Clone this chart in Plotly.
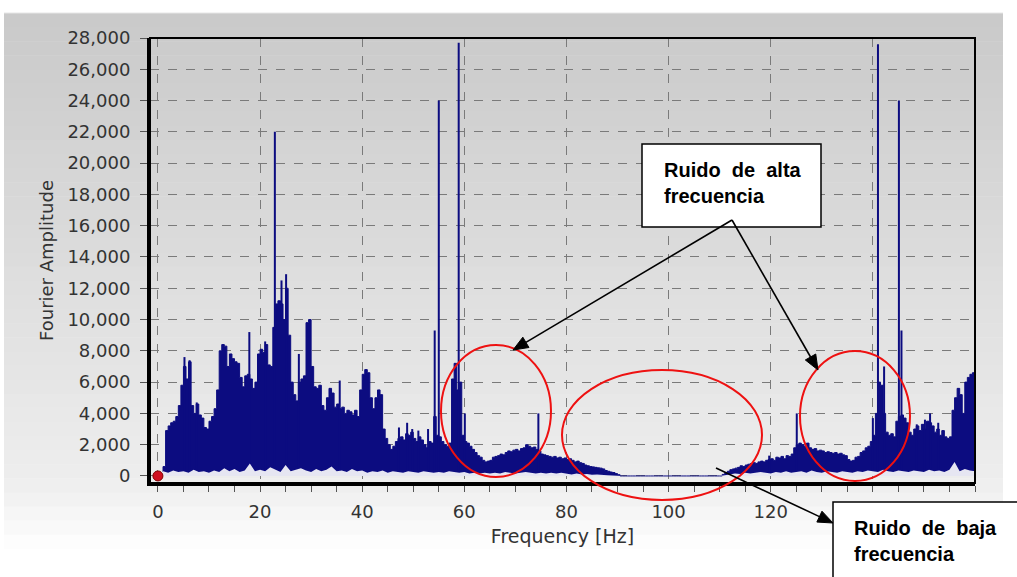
import math
import plotly.graph_objects as go

# ---------------- data ----------------
# envelope of Fourier amplitude, sampled every 0.5 Hz from 0 to 160 Hz
AMP_SEGMENTS = [
    [0, 100, 600, 2900, 3200, 3400, 3500, 3800, 4500, 5800, 7000, 6200, 7300, 4500, 4000, 4600, 3900, 3700, 3100, 3000],
    [3500, 3800, 4300, 5500, 8000, 8400, 8300, 7000, 7800, 7500, 7300, 7200, 6300, 5700, 6400, 6500, 6200, 5600, 6000, 7800],
    [8100, 7900, 8400, 7100, 7000, 9500, 11000, 11200, 11000, 10000, 12000, 9000, 6000, 5200, 4800, 6000, 6200, 6400, 9800, 10000],
    [7000, 5700, 5600, 5800, 4500, 4200, 5000, 5600, 5300, 4400, 4600, 4300, 4400, 4000, 4200, 4100, 3900, 4200, 3800, 5500],
    [6500, 6800, 6600, 5000, 4300, 5000, 5500, 5200, 3000, 2400, 2000, 1700, 1900, 2200, 2400, 2500, 2300, 2700, 2600, 2800],
    [2400, 2200, 2500, 2300, 2000, 1800, 2200, 2100, 3800, 2600, 2500, 2200, 2000, 1900, 2100, 6200, 7200, 5500, 6000, 2600],
    [2200, 2100, 1900, 1700, 1500, 1300, 1200, 1000, 900, 950, 1000, 1200, 1250, 1300, 1400, 1350, 1500, 1600, 1550, 1650],
    [1700, 1600, 1750, 1800, 2000, 1900, 1800, 1850, 1700, 1600, 1400, 1350, 1300, 1250, 1200, 1250, 1150, 1200, 1100, 1150],
    [1050, 1100, 1000, 900, 950, 850, 800, 700, 650, 600, 580, 550, 520, 500, 450, 350, 300, 250, 220, 150],
    [80, 0, 0, 0, 0, 0, 0, 0, 0, 0, 0, 0, 0, 0, 0, 0, 0, 0, 0, 0],
    [0, 0, 0, 0, 0, 0, 0, 0, 0, 0, 0, 0, 0, 0, 0, 0, 0, 0, 0, 0],
    [0, 100, 200, 300, 400, 450, 500, 550, 650, 600, 700, 750, 800, 850, 800, 900, 950, 900, 1000, 1050],
    [1100, 1000, 1200, 1150, 1250, 1100, 1300, 1250, 1400, 1800, 2000, 2100, 2000, 1900, 2100, 1800, 1700, 1750, 1600, 1650],
    [1600, 1500, 1550, 1500, 1450, 1500, 1400, 1450, 1350, 1300, 1050, 950, 1000, 1200, 1250, 1500, 1600, 1800, 1900, 2200],
    [2600, 4000, 6000, 5800, 4000, 2800, 2600, 2700, 2500, 3500, 3800, 3900, 3700, 3400, 2800, 2600, 3000, 3200, 2900, 3300],
    [3000, 3500, 3400, 3200, 2800, 3000, 2600, 2900, 2500, 2400, 2500, 4200, 5000, 5600, 5200, 4000, 6000, 6300, 6500, 6600],
    [5000],
]
AMP = [v for seg in AMP_SEGMENTS for v in seg]
FREQ = [i * 0.5 for i in range(len(AMP))]

# isolated narrow spectral lines (Hz, amplitude)
SPIKE_FREQ = [5.2, 6.2, 7.6, 17.9, 21.0, 22.9, 24.2, 25.1, 27.6, 35.6, 47.2, 48.8, 49.8, 51.0, 52.9,
              54.2, 55.0, 58.9, 60.1, 74.5, 119.7, 125.1, 140.0, 141.0, 142.2, 145.1, 145.6,
              148.6, 150.2, 151.2, 152.8]
SPIKE_AMP = [7600, 7400, 4700, 9200, 8600, 22000, 12500, 12900, 7800, 6100, 3100, 3400, 3000, 2900, 3000,
             9300, 24000, 27700, 4000, 4000, 1300, 4000, 3700, 27600, 7000, 24000, 9300,
             3300, 3600, 4000, 3400]

# low-level noise floor (light trace), every 1 Hz from 0 to 160 Hz
FLOOR = [0, 300, 200, 350, 250, 300, 200, 400, 250, 300, 200, 350, 250, 500, 300, 450, 250, 350, 800, 300,
         400, 300, 550, 400, 250, 700, 300, 400, 500, 350, 250, 450, 300, 400, 600, 300, 350, 250, 450, 300,
         350, 200, 300, 250, 350, 200, 300, 250, 200, 300, 250, 200, 300, 250, 200, 250, 200, 300, 250, 200,
         250, 150, 200, 150, 200, 150, 200, 150, 250, 200, 150, 200, 250, 200, 150, 200, 150, 200, 150, 200,
         150, 100, 150, 100, 120, 80, 100, 60, 50, 30, 0, 0, 0, 0, 0, 0, 0, 0, 0, 0,
         0, 0, 0, 0, 0, 0, 0, 0, 0, 0, 0, 50, 100, 150, 120, 200, 150, 200, 250, 200,
         150, 250, 200, 300, 200, 250, 300, 200, 350, 250, 200, 300, 250, 200, 300, 250, 200, 300, 250, 350,
         300, 250, 400, 300, 250, 350, 300, 250, 350, 300, 250, 400, 300, 350, 250, 400, 900, 300, 450, 350,
         300]
FLOOR_FREQ = list(range(len(FLOOR)))

MARK_X = [0]
MARK_Y = [0]

X_TICKS = [0, 20, 40, 60, 80, 100, 120, 140]
# the 140 label is hidden behind the lower annotation box in the reference
X_TICKTEXT = ["0", "20", "40", "60", "80", "100", "120", ""]
Y_TICKS = list(range(0, 28001, 2000))

# ---------------- layout helpers ----------------
W, H = 1017, 577
L, R, T, B = 150, 975, 38, 483


def px(x):
    return (x - L) / (R - L)


def py(y):
    return (B - y) / (B - T)


NAVY = "#0c0c80"

fig = go.Figure()

fig.add_trace(go.Scatter(x=FREQ, y=AMP, mode="lines", line=dict(color=NAVY, width=1, shape="hv"),
                         fill="tozeroy", fillcolor=NAVY, hoverinfo="skip"))

sx, sy = [], []
for f, a in zip(SPIKE_FREQ, SPIKE_AMP):
    sx += [f, f, None]
    sy += [0, a, None]
fig.add_trace(go.Scatter(x=sx, y=sy, mode="lines", line=dict(color=NAVY, width=2), hoverinfo="skip"))

fig.add_trace(go.Scatter(x=FLOOR_FREQ, y=FLOOR, mode="lines", line=dict(color="rgba(0,0,0,0)", width=0),
                         fill="tozeroy", fillcolor="#e6e6f2", hoverinfo="skip"))

fig.add_trace(go.Scatter(x=MARK_X, y=MARK_Y, mode="markers",
                         marker=dict(color="#d01020", size=10, line=dict(color="#800000", width=1)),
                         cliponaxis=False, hoverinfo="skip"))

shapes = []
# background gradient panel
top_px, n = 13, 40
for i in range(n):
    y0p = top_px + (H - top_px) * i / n
    y1p = top_px + (H - top_px) * (i + 1) / n
    t = (y0p + y1p) / 2
    if t < 483:
        c = 201 + (238 - 201) * (t - top_px) / (483 - top_px)
    else:
        c = min(255, 238 + (255 - 238) * (t - 483) / (550 - 483))
    c = int(round(c))
    shapes.append(dict(type="rect", xref="paper", yref="paper", x0=px(4), x1=px(1003),
                       y0=py(y1p + 0.5), y1=py(y0p), fillcolor=f"rgb({c},{c},{c})",
                       line=dict(width=0), layer="below"))
shapes.append(dict(type="line", xref="paper", yref="paper", x0=px(4), x1=px(1003), y0=py(13), y1=py(13),
                   line=dict(color="#e6e6e6", width=1), layer="below"))
# plot frame (top/right)
shapes.append(dict(type="rect", xref="paper", yref="paper", x0=0, x1=1, y0=0, y1=1,
                   line=dict(color="black", width=2), layer="above"))
# red ellipses
for cx, cy, rx, ry in [(496, 411, 55, 66), (662, 435, 100, 65), (855, 416, 55, 65)]:
    shapes.append(dict(type="circle", xref="paper", yref="paper", x0=px(cx - rx), x1=px(cx + rx),
                       y0=py(cy + ry), y1=py(cy - ry), line=dict(color="#ee1111", width=2), layer="above"))
# text boxes
shapes.append(dict(type="rect", xref="paper", yref="paper", x0=px(642), x1=px(821), y0=py(227), y1=py(144),
                   fillcolor="white", line=dict(color="black", width=1.5), layer="above"))
shapes.append(dict(type="rect", xref="paper", yref="paper", x0=px(833), x1=px(1030), y0=py(590), y1=py(502),
                   fillcolor="white", line=dict(color="black", width=1.5), layer="above"))

# arrows (line + filled triangular head)
HEAD_LEN, HEAD_HALF = 15, 6
for tx, ty, hx, hy in [(732, 220, 513, 350), (732, 220, 818, 370), (716, 468, 833, 523)]:
    dx, dy = hx - tx, hy - ty
    d = math.hypot(dx, dy)
    ux, uy = dx / d, dy / d
    bx, by = hx - ux * HEAD_LEN, hy - uy * HEAD_LEN
    shapes.append(dict(type="line", xref="paper", yref="paper", x0=px(tx), y0=py(ty), x1=px(bx), y1=py(by),
                       line=dict(color="black", width=1.6), layer="above"))
    p1 = (bx - uy * HEAD_HALF, by + ux * HEAD_HALF)
    p2 = (bx + uy * HEAD_HALF, by - ux * HEAD_HALF)
    path = (f"M {px(hx)} {py(hy)} L {px(p1[0])} {py(p1[1])} L {px(p2[0])} {py(p2[1])} Z")
    shapes.append(dict(type="path", xref="paper", yref="paper", path=path, fillcolor="black",
                       line=dict(color="black", width=1), layer="above"))

NB = "\u00a0"
annotations = [
    dict(xref="paper", yref="paper", x=px(662), y=py(183), xanchor="left", yanchor="middle", align="left",
         showarrow=False, text=f"Ruido{NB}{NB}de{NB}{NB}alta<br>frecuencia",
         font=dict(family="Liberation Sans", size=20, color="black", weight="bold")),
    dict(xref="paper", yref="paper", x=px(852), y=py(541), xanchor="left", yanchor="middle", align="left",
         showarrow=False, text=f"Ruido{NB}{NB}de{NB}{NB}baja<br>frecuencia",
         font=dict(family="Liberation Sans", size=20, color="black", weight="bold")),
]

TICKFONT = dict(family="DejaVu Sans", size=18, color="#333333")

fig.update_layout(
    width=W, height=H,
    margin=dict(l=L, r=W - R, t=T, b=H - B),
    paper_bgcolor="white",
    plot_bgcolor="rgba(0,0,0,0)",
    showlegend=False,
    shapes=shapes,
    annotations=annotations,
    xaxis=dict(range=[-1.55, 160], tickvals=X_TICKS, ticktext=X_TICKTEXT,
               ticks="outside", ticklen=6, tickcolor="#555555", tickwidth=1,
               minor=dict(dtick=5, tick0=0, ticks="outside", ticklen=6, tickcolor="#555555", showgrid=False),
               showgrid=True, gridcolor="#7a7a7a", griddash="dash", gridwidth=1,
               zeroline=False, showline=True, linecolor="black", linewidth=3,
               tickfont=TICKFONT, ticklabelstandoff=4,
               title=dict(text="Frequency [Hz]", font=dict(family="DejaVu Sans", size=19, color="#333333"),
                          standoff=10)),
    yaxis=dict(range=[-450, 28000], tickvals=Y_TICKS, tickformat=",d",
               ticks="outside", ticklen=7, tickcolor="#555555", tickwidth=1,
               showgrid=True, gridcolor="#7a7a7a", griddash="dash", gridwidth=1,
               zeroline=False, showline=True, linecolor="black", linewidth=3,
               tickfont=TICKFONT, ticklabelstandoff=6,
               title=dict(text="Fourier Amplitude", font=dict(family="DejaVu Sans", size=18, color="#333333"),
                          standoff=10)),
)

fig.write_html("out.html", config=dict(displayModeBar=False))
